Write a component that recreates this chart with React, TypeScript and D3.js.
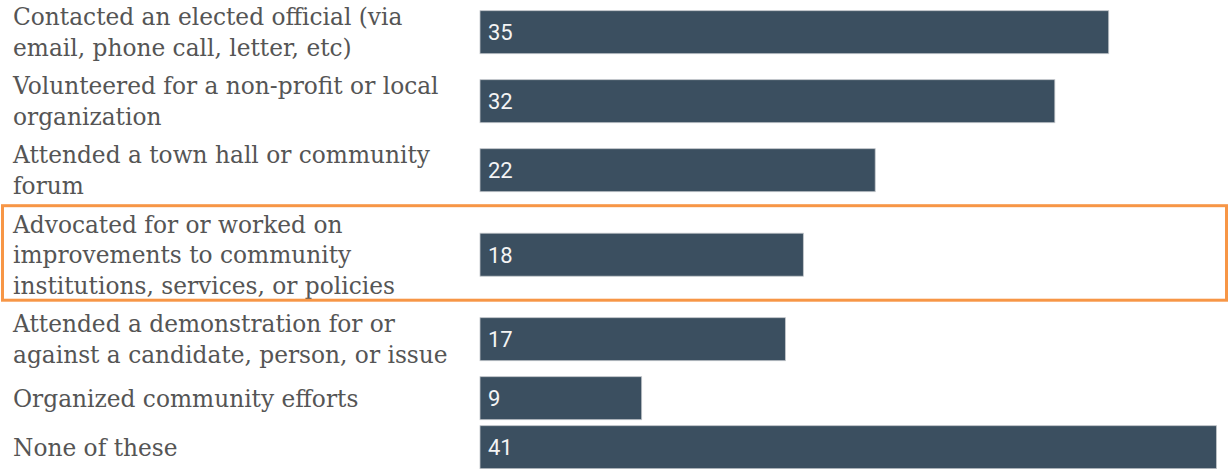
import React from "react";
import * as d3 from "d3";

const categories: string[][] = [
  ["Contacted an elected official (via", "email, phone call, letter, etc)"],
  ["Volunteered for a non-profit or local", "organization"],
  ["Attended a town hall or community", "forum"],
  ["Advocated for or worked on", "improvements to community", "institutions, services, or policies"],
  ["Attended a demonstration for or", "against a candidate, person, or issue"],
  ["Organized community efforts"],
  ["None of these"],
];
const values: number[] = [35, 32, 22, 18, 17, 9, 41];
const highlightedIndex = 3;

const W = 1228;
const H = 469;
const LINE_H = 30.5;
const BAR_H = 43;

export default function App() {
  const x = d3.scaleLinear().domain([0, 41]).range([480, 1216.5]);
  const rowH = categories.map((l) => Math.max(49, l.length * 31 + 7));
  const tops: number[] = [];
  let acc = -2.3;
  rowH.forEach((h) => {
    tops.push(acc);
    acc += h;
  });
  const y = d3
    .scaleOrdinal<number, number>()
    .domain(d3.range(categories.length))
    .range(tops.map((t, i) => t + rowH[i] / 2));

  return (
    <div style={{ position: "absolute", left: 0, top: 0 }}>
      <svg width={W} height={H} style={{ display: "block", background: "#fff" }}>
        {categories.map((lines, i) => {
          const cy = y(i);
          const n = lines.length;
          return (
            <g key={i}>
              {lines.map((ln, j) => (
                <text
                  key={j}
                  x={13}
                  y={cy + 8.5 + (j - (n - 1) / 2) * LINE_H}
                  fontFamily="'DejaVu Serif', serif"
                  fontSize={23.3}
                  fill="#555"
                >
                  {ln}
                </text>
              ))}
              <rect
                x={x(0)}
                y={cy - BAR_H / 2}
                width={x(values[i]) - x(0)}
                height={BAR_H}
                fill="#3b4f60"
                stroke="#c2c6ca"
                strokeWidth={0.8}
              />
              <text
                x={x(0) + 8}
                y={cy + 8}
                fontFamily="Roboto, 'Open Sans', sans-serif"
                fontSize={22}
                fill="#f4f4f4"
              >
                {values[i]}
              </text>
            </g>
          );
        })}
        <rect
          x={2.5}
          y={tops[highlightedIndex] + 1}
          width={W - 4}
          height={rowH[highlightedIndex] - 5.5}
          fill="none"
          stroke="#f79646"
          strokeWidth={3}
        />
      </svg>
    </div>
  );
}
